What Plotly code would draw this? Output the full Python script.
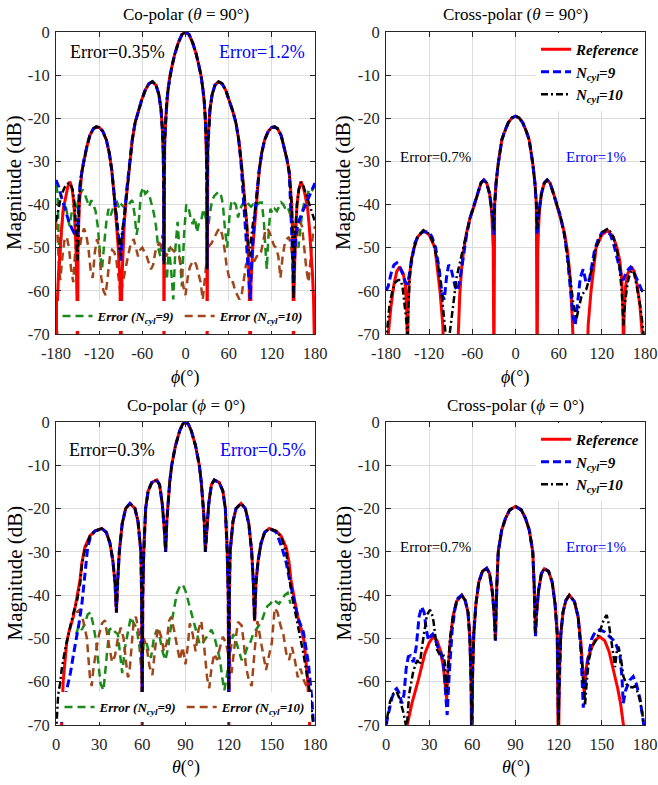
import plotly.graph_objects as go

FONT = "Liberation Serif"
W, H = 658, 785

# ---------------- data (angle in degrees, magnitude in dB) ----------------
PHI_TICKS = [-180, -120, -60, 0, 60, 120, 180]
PHI_TICKTEXT = ["-180", "-120", "-60", "0", "60", "120", "180"]
THETA_TICKS = [0, 30, 60, 90, 120, 150, 180]
THETA_TICKTEXT = ["0", "30", "60", "90", "120", "150", "180"]
DB_TICKS = [-70, -60, -50, -40, -30, -20, -10, 0]
DB_TICKTEXT = ["-70", "-60", "-50", "-40", "-30", "-20", "-10", "0"]

# Panel 1: Co-polar (theta = 90)
P1_REF = [(-180,-80),(-179.2,-70),(-178,-62),(-176.5,-56),(-174.4,-50),(-172,-45),(-169.8,-41),(-166.5,-38),(-163.5,-35.8),(-160.5,-34.7),(-157.5,-36.5),(-155,-40),(-152.2,-50),(-150.8,-62),(-150,-80),(-149.4,-50),(-147.6,-40),(-144.3,-32.5),(-141,-29.5),(-137,-26.5),(-133,-24),(-128,-22.4),(-124,-22),(-120,-22.1),(-115,-23),(-110,-25),(-106,-28),(-102.5,-32),(-98,-40),(-93.5,-50),(-91,-58),(-90,-80),(-88.5,-58),(-87,-50),(-85,-44),(-82,-38),(-78,-31),(-74,-25),(-70,-21),(-66,-18.5),(-61,-15.8),(-56,-13.5),(-51,-12),(-46,-11.5),(-41,-12.3),(-37,-14.5),(-34,-18),(-32,-23),(-31,-27),(-30.3,-33),(-30,-80),(-29.8,-33),(-29,-26),(-27.5,-20),(-26,-16),(-24,-13),(-21.5,-10),(-19,-8),(-15,-5.2),(-10,-2.5),(-5,-0.6),(0,0),(5,-0.6),(10,-2.5),(15,-5.2),(19,-8),(21.5,-10),(24,-13),(26,-16),(27.5,-20),(29,-26),(29.8,-33),(30,-80),(30.3,-33),(31,-27),(32,-23),(34,-18),(37,-14.5),(41,-12.3),(46,-11.5),(51,-12),(56,-13.5),(61,-15.8),(66,-18.5),(70,-21),(74,-25),(78,-31),(82,-38),(85,-44),(87,-50),(88.5,-58),(90,-80),(91,-58),(93.5,-50),(98,-40),(102.5,-32),(106,-28),(110,-25),(115,-23),(120,-22.1),(124,-22),(128,-22.4),(133,-24),(137,-26.5),(141,-29.5),(144.3,-32.5),(147.6,-40),(149.4,-50),(150,-80),(150.8,-62),(152.2,-50),(155,-40),(157.5,-36.5),(160.5,-34.7),(163.5,-35.8),(166.5,-38),(169.8,-41),(172,-45),(174.4,-50),(176.5,-56),(178,-62),(179.2,-70),(180,-80)]
P1_N9 = [(-180,-34.3),(-176,-36),(-172,-38.5),(-167,-41.5),(-162,-44),(-158,-45.5),(-155,-46.5),(-152,-46),(-150.5,-47),(-149.5,-44),(-148,-38),(-146,-34.5),(-144.3,-32.5),(-141,-29.5),(-137,-26.5),(-133,-24),(-128,-22.4),(-124,-22),(-120,-22.1),(-115,-23),(-110,-25),(-106,-28),(-102.5,-32),(-98,-40),(-94,-46),(-91,-50),(-90,-53),(-89,-50),(-87,-46),(-85,-42),(-82,-37),(-78,-31),(-74,-25),(-70,-21),(-66,-18.5),(-61,-15.8),(-56,-13.5),(-51,-12),(-46,-11.5),(-41,-12.3),(-37,-14.5),(-34,-18),(-32,-23),(-31,-27),(-30.3,-38),(-30,-53),(-29.7,-38),(-29,-26),(-27.5,-20),(-26,-16),(-24,-13),(-21.5,-10),(-19,-8),(-15,-5.2),(-10,-2.5),(-5,-0.6),(0,0),(5,-0.6),(10,-2.5),(15,-5.2),(19,-8),(21.5,-10),(24,-13),(26,-16),(27.5,-20),(29,-26),(29.7,-38),(30,-55),(30.3,-38),(31,-27),(32,-23),(34,-18),(37,-14.5),(41,-12.3),(46,-11.5),(51,-12),(56,-13.5),(61,-15.8),(66,-18.5),(70,-21),(74,-25),(77,-30),(80.4,-38),(83,-45),(85,-51),(87,-56),(89,-60),(90,-62),(91,-57),(93,-50),(97,-41),(102.5,-32),(106,-28),(110,-25),(115,-23),(120,-22.1),(124,-22),(128,-22.4),(133,-24),(137,-26.5),(141,-29.5),(144.3,-33),(146.5,-40),(148,-48),(149.3,-55),(150,-60),(151,-55),(153,-48),(156,-44.5),(159,-43),(163,-41.5),(167,-40),(171,-38.5),(175.4,-37),(180,-35)]
P1_N10 = [(-180,-44),(-177,-41),(-173,-38),(-168,-36),(-164,-35.2),(-160.5,-35),(-157,-36.5),(-154,-40),(-152,-45),(-150.5,-51),(-150,-53),(-149.5,-50),(-148.5,-42),(-147,-36),(-145,-33.3),(-141,-29.5),(-137,-26.5),(-133,-24),(-128,-22.4),(-124,-22),(-120,-22.1),(-115,-23),(-110,-25),(-106,-28),(-102.5,-32),(-98,-40),(-94,-46),(-91.5,-50),(-90.5,-52),(-89.5,-49),(-88,-46),(-85,-43),(-82,-38),(-78,-31),(-74,-25),(-70,-21),(-66,-18.5),(-61,-15.8),(-56,-13.5),(-51,-12),(-46,-11.5),(-41,-12.3),(-37,-14.5),(-34,-18),(-32,-23),(-31,-27),(-30.3,-38),(-30,-54),(-29.7,-38),(-29,-26),(-27.5,-20),(-26,-16),(-24,-13),(-21.5,-10),(-19,-8),(-15,-5.2),(-10,-2.5),(-5,-0.6),(0,0),(5,-0.6),(10,-2.5),(15,-5.2),(19,-8),(21.5,-10),(24,-13),(26,-16),(27.5,-20),(29,-26),(29.7,-38),(30,-55),(30.3,-38),(31,-27),(32,-23),(34,-18),(37,-14.5),(41,-12.3),(46,-11.5),(51,-12),(56,-13.5),(61,-15.8),(66,-18.5),(70,-21),(74,-25),(78,-31),(82,-38),(85,-44),(87.3,-50),(89.5,-52),(90.5,-49),(92,-46),(94,-44),(98,-40),(102.5,-32),(106,-28),(110,-25),(115,-23),(120,-22.1),(124,-22),(128,-22.4),(133,-24),(137,-26.5),(141,-29.5),(144.3,-32.5),(147.6,-40),(149.3,-50),(150,-62),(150.8,-55),(152.2,-47),(155,-40),(157.5,-36.5),(160.5,-34.8),(164,-35.8),(168,-37.8),(172,-40),(176,-42.3),(180,-44)]
P1_ERR9 = [(-180,-35.5),(-178,-37),(-176.5,-46),(-175,-54),(-173,-48),(-170,-41),(-167,-40),(-164,-42.5),(-161,-45),(-158,-41.5),(-155,-40),(-152,-41.5),(-149,-39),(-146,-37.5),(-143,-36.5),(-140,-37.5),(-137,-39),(-134,-40.5),(-131,-39),(-128,-40),(-125,-41.5),(-122,-45),(-119,-51),(-116,-55),(-113,-49),(-110,-44),(-107,-41),(-104,-42.5),(-101,-41),(-98,-40),(-95,-39.5),(-92,-41),(-89,-40),(-86,-40.5),(-83,-40),(-80,-40.5),(-77,-39.5),(-74,-39),(-71,-42),(-68,-47),(-65,-44),(-62,-37.5),(-59,-36),(-56,-37.5),(-53,-37),(-50,-38),(-47,-40),(-44,-42),(-41,-45),(-38,-50),(-35,-52),(-32,-47),(-29,-53),(-26,-57.5),(-23,-50),(-20,-55),(-17,-62),(-14,-50),(-11,-44),(-8,-52),(-5,-59),(-2,-47),(1,-40),(4,-40.5),(7,-43),(10,-44.5),(13,-43),(16,-46.5),(19,-44),(22,-43.5),(25,-41),(28,-43),(31,-46),(34,-42),(37,-39),(40,-38),(43,-37.5),(46,-37),(49,-37.5),(52,-40),(55,-46),(58,-50),(61,-43),(64,-39),(67,-39.5),(70,-40),(73,-43),(76,-41),(79,-40),(82,-39),(85,-39.5),(88,-40),(91,-40.5),(94,-40),(97,-40.5),(100,-40),(103,-39.5),(106,-39.5),(109,-44),(111,-50),(113,-55),(115,-48),(118,-41),(121,-42),(124,-41),(127,-41.5),(130,-40.5),(133,-39.5),(136,-40),(139,-41),(142,-40.5),(145,-42),(148,-44),(151,-45),(154,-48.5),(157,-50),(160,-45),(163,-41),(166,-39),(169,-37.5),(172,-36.5),(175,-37),(178,-36),(180,-35.5)]
P1_ERR10 = [(-180,-44),(-178,-47),(-176,-54),(-174,-57.5),(-171,-52),(-168,-48),(-165,-47.5),(-162,-50),(-159,-55),(-156,-58),(-153,-50),(-150,-47.5),(-147,-50),(-144,-47),(-141,-45.5),(-138,-47),(-135,-50),(-132,-55),(-129,-57),(-126,-51),(-123,-48),(-120,-50),(-117,-57),(-114,-60),(-111,-61),(-108,-57),(-105,-52),(-102,-50.5),(-99,-51),(-96,-53),(-93,-57),(-90,-61),(-87,-58),(-84,-55),(-80,-52),(-76,-49),(-72,-48),(-69,-50),(-66,-52),(-63,-50.5),(-60,-50),(-57,-51),(-54,-52),(-51,-53.5),(-48,-55),(-45,-54),(-42,-51),(-39,-49.5),(-36,-49),(-33,-50),(-30,-50.5),(-27,-52),(-24,-51),(-21,-50),(-18,-50.5),(-15,-51),(-12,-51.5),(-9,-52),(-6,-55),(-3,-59),(0,-61),(3,-57),(6,-54.5),(9,-53.5),(12,-53),(15,-54),(18,-56),(21,-58),(24,-62),(27,-56),(30,-52),(33,-49.5),(36,-49),(39,-48),(42,-47),(45,-46),(48,-45.5),(51,-47),(54,-50),(57,-54),(60,-56.5),(63,-58),(66,-58),(69,-60),(72,-61),(75,-62),(78,-61),(81,-57),(84,-54),(87,-53),(90,-53),(93,-53),(96,-53),(99,-52),(102,-52),(105,-51),(108,-48),(111,-46),(114,-45.5),(117,-46.5),(120,-48),(123,-49.5),(126,-50),(129,-52),(132,-57),(135,-52),(138,-49),(141,-48),(144,-47.5),(147,-50),(150,-53),(153,-50),(156,-46),(159,-44),(162,-45),(165,-50),(168,-55),(171,-58),(174,-52),(177,-47),(180,-45)]

# Panel 2: Cross-polar (theta = 90)
P2_REF = [(-180,-78),(-176.8,-70),(-173,-63.5),(-169,-58.5),(-165,-55.5),(-161,-54.4),(-156,-56),(-153,-59),(-151,-65),(-150,-80),(-149.5,-66),(-148,-58),(-145,-53),(-141,-50),(-136,-47.5),(-128,-46),(-120,-47),(-112,-50),(-105,-60),(-101,-68),(-100,-75),(-81,-75),(-79.5,-70),(-77.5,-61),(-75,-55),(-72,-50.5),(-68,-46.5),(-63,-43),(-58,-40.5),(-53,-37.5),(-48,-35),(-44,-34.3),(-40,-35),(-36,-37.5),(-33,-42),(-31,-50),(-30,-80),(-29,-40),(-27,-35),(-24,-30.5),(-19,-25),(-15,-23),(-10,-21),(-5,-19.9),(0,-19.5),(5,-19.9),(10,-21),(15,-23),(19,-25),(24,-30.5),(27,-35),(29,-40),(30,-80),(31,-50),(33,-42),(36,-37.5),(40,-35),(44,-34.3),(48,-35),(53,-37.5),(58,-40.5),(63,-43),(68,-46.5),(72,-50.5),(75,-55),(77.5,-61),(79.5,-70),(81,-75),(100,-75),(101,-68),(105,-60),(112,-50),(120,-47),(128,-46),(136,-47.5),(141,-50),(145,-53),(148,-58),(149.5,-66),(150,-80),(151,-65),(153,-59),(156,-56),(161,-54.4),(165,-55.5),(169,-58.5),(173,-63.5),(176.8,-70),(180,-78)]
P2_N9 = [(-180,-60),(-177,-59),(-173,-56),(-169,-54),(-165,-53.5),(-161,-54.5),(-157,-56),(-153,-58),(-150,-58.5),(-147,-55.5),(-144,-52),(-140,-49),(-135,-47),(-128,-46.3),(-121,-46.3),(-116,-47.5),(-111,-50),(-106,-55),(-102,-61),(-99,-62),(-96,-57),(-93,-54),(-90,-54.5),(-87,-57),(-84,-59),(-81,-60),(-78,-58),(-75,-55),(-72,-51),(-68,-47),(-63,-43),(-58,-40.5),(-53,-37.5),(-48,-35),(-44,-34.3),(-40,-35),(-36,-37.5),(-33,-41),(-31,-45),(-30,-47),(-29,-40),(-27,-35),(-24,-30.5),(-19,-25),(-15,-23),(-10,-21),(-5,-19.9),(0,-19.5),(5,-19.9),(10,-21),(15,-23),(19,-25),(24,-30.5),(27,-35),(29,-40),(30,-47),(31,-45),(33,-41),(36,-37.5),(40,-35),(44,-34.3),(48,-35),(53,-37.5),(58,-40.5),(63,-43),(68,-47),(72,-52),(76,-59),(80,-66),(83,-68),(86,-63),(90,-57),(94,-55),(98,-58),(102,-58),(106,-54),(110,-50.5),(115,-48),(120,-46.5),(126,-46),(132,-47),(137,-49.5),(141,-52),(145,-55),(148,-57),(150,-57.5),(153,-56),(157,-55),(160,-54.5),(164,-55.5),(168,-57),(172,-58.5),(176,-60),(180,-60)]
P2_N10 = [(-180,-72),(-178,-68),(-175,-63),(-171,-60),(-167,-58),(-163,-57.5),(-160,-57.5),(-157,-59),(-154,-63),(-151,-68),(-150,-72),(-149,-64),(-147,-57),(-145,-53),(-141,-50),(-136,-47.5),(-128,-46),(-120,-46.8),(-114,-49),(-108,-53.5),(-103,-60),(-99,-66),(-96,-72),(-93,-72),(-90,-68),(-86,-62),(-82,-57),(-78,-54),(-74,-51),(-70,-48),(-66,-45),(-63,-43),(-58,-40.5),(-53,-37.5),(-48,-35),(-44,-34.3),(-40,-35),(-36,-37.5),(-33,-41),(-31,-44),(-30,-46),(-29,-40),(-27,-35),(-24,-30.5),(-19,-25),(-15,-23),(-10,-21),(-5,-19.9),(0,-19.5),(5,-19.9),(10,-21),(15,-23),(19,-25),(24,-30.5),(27,-35),(29,-40),(30,-46),(31,-44),(33,-41),(36,-37.5),(40,-35),(44,-34.3),(48,-35),(53,-37.5),(58,-40.5),(63,-43),(68,-47),(72,-51.5),(76,-57),(80,-62.5),(84.6,-66.5),(88,-64),(92,-61),(98.5,-59.6),(103,-56.5),(107.8,-53.9),(112,-50),(120,-46.5),(129,-45.5),(136,-47.5),(141,-50.5),(145,-55),(148,-61),(150,-68),(152,-63),(156,-58),(159,-56),(162,-55.2),(165,-56),(168,-58.5),(172,-62),(175,-65.5),(178,-70),(180,-73)]

# Panel 3: Co-polar (phi = 0)
P3_REF = [(0,-80),(3.9,-70),(5,-60),(7.4,-51),(9,-48.5),(12,-45),(14,-41.5),(16.7,-36.5),(18,-32.5),(20,-29),(23.6,-26.3),(27,-25.2),(31.8,-24.6),(35,-25.5),(37.5,-28),(39.5,-32),(41,-37),(42,-44),(43,-36),(44,-30),(46,-23.5),(48.4,-20),(51.4,-18.8),(54.9,-20),(57,-23),(59,-30),(59.5,-40),(59.9,-75),(60.3,-40),(61,-30),(62.3,-20),(64,-16),(66.5,-14),(70,-13.4),(72,-14.5),(73.9,-19),(75.3,-25),(76.2,-30),(77,-23),(77.6,-20),(79,-14),(80.4,-10),(83,-5.5),(86,-2),(88,-0.5),(90,0),(92,-0.5),(94,-2),(97,-5.5),(99.6,-10),(101,-14),(102.4,-20),(103,-23),(103.8,-30),(104.7,-25),(106.1,-19),(108,-14.5),(110,-13.4),(113.5,-14),(116,-16),(117.7,-20),(119,-30),(119.7,-40),(120.1,-75),(120.5,-40),(121,-30),(123,-23),(125.1,-20),(128.6,-18.8),(131.6,-20),(134,-23.5),(136,-30),(137,-36),(138,-46),(139,-37),(140.5,-32),(142.5,-28),(145,-25.5),(148.2,-24.6),(153,-25.2),(156.4,-26.3),(160,-29),(162,-32.5),(163.3,-36.5),(166,-41.5),(168,-45),(171,-48.5),(172.6,-51),(175,-60),(176.1,-70),(177.5,-80),(180,-80)]
P3_N9 = [(2,-75),(3.5,-70),(5,-66),(8,-61),(10,-58),(12,-54),(14,-50.5),(16,-46.5),(18,-42),(20,-35),(22,-29),(24,-26.5),(27,-25.2),(31.8,-24.6),(35,-25.5),(37.5,-28),(39.5,-32),(41,-37),(42,-44),(43,-36),(44,-30),(46,-23.5),(48.4,-20),(51.4,-18.8),(54.9,-20),(57,-23),(59,-30),(59.5,-40),(59.9,-66),(60.3,-40),(61,-30),(62.3,-20),(64,-16),(66.5,-14),(70,-13.4),(72,-14.5),(73.9,-19),(75.3,-25),(76.2,-30),(77,-23),(77.6,-20),(79,-14),(80.4,-10),(83,-5.5),(86,-2),(88,-0.5),(90,0),(92,-0.5),(94,-2),(97,-5.5),(99.6,-10),(101,-14),(102.4,-20),(103,-23),(103.8,-30),(104.7,-25),(106.1,-19),(108,-14.5),(110,-13.4),(113.5,-14),(116,-16),(117.7,-20),(119,-30),(119.7,-40),(120.1,-66),(120.5,-40),(121,-30),(123,-23),(125.1,-20),(128.6,-18.8),(131.6,-20),(134,-23.5),(136,-30),(137,-36),(138,-46),(139,-37),(140.5,-32),(142.5,-28),(145,-25.5),(148.2,-24.6),(153,-25.4),(157,-29),(160,-32.5),(162.6,-37),(165,-40.5),(168.4,-45.5),(171.9,-48.5),(173.5,-52),(175.4,-55.7),(177.7,-63.6),(178.8,-70),(180,-75)]
P3_N10 = [(0,-72),(0.8,-66),(1.5,-63),(2.8,-60.5),(4,-57),(6.3,-52.6),(9.7,-47.3),(12,-44.2),(14.5,-41.5),(16.7,-37.5),(18,-33),(20,-29.5),(23.6,-26.3),(27,-25.2),(31.8,-24.6),(35,-25.5),(37.5,-28),(39.5,-32),(41,-37),(42,-44),(43,-36),(44,-30),(46,-23.5),(48.4,-20),(51.4,-18.8),(54.9,-20),(57,-23),(59,-30),(59.5,-40),(59.9,-66),(60.3,-40),(61,-30),(62.3,-20),(64,-16),(66.5,-14),(70,-13.4),(72,-14.5),(73.9,-19),(75.3,-25),(76.2,-30),(77,-23),(77.6,-20),(79,-14),(80.4,-10),(83,-5.5),(86,-2),(88,-0.5),(90,0),(92,-0.5),(94,-2),(97,-5.5),(99.6,-10),(101,-14),(102.4,-20),(103,-23),(103.8,-30),(104.7,-25),(106.1,-19),(108,-14.5),(110,-13.4),(113.5,-14),(116,-16),(117.7,-20),(119,-30),(119.7,-40),(120.1,-66),(120.5,-40),(121,-30),(123,-23),(125.1,-20),(128.6,-18.8),(131.6,-20),(134,-23.5),(136,-30),(137,-36),(138,-46),(139,-37),(140.5,-32),(142.5,-28),(145,-25.5),(148.2,-24.6),(153,-25.2),(156.4,-26.5),(160,-30),(162.6,-37),(164.5,-41),(167.3,-45.7),(171.9,-53.4),(176.5,-62.6),(178.5,-68),(179.5,-72)]
P3_ERR9 = [(14,-49),(16,-47),(18,-48),(20,-46.5),(22,-44.5),(24,-44),(26,-47),(28,-51),(29.5,-56),(31,-60.5),(33,-62),(35,-55),(37,-48),(39,-47.5),(41,-48.5),(43,-49),(44.5,-53),(46,-58),(48,-52),(50,-48),(52,-45),(54,-46.5),(56,-47.5),(58,-52),(59.5,-58),(61,-51),(62.5,-50.5),(64,-52.5),(66,-54.5),(68,-50),(70,-48),(72,-49.5),(74,-53),(76,-55),(78,-52),(80,-47),(82,-43),(84,-39.5),(86,-38),(88,-37.5),(90,-39),(92,-41.5),(94,-44),(96,-46),(98,-49),(100,-51.5),(102,-51),(104,-50),(106,-49),(108,-48),(110,-49.5),(112,-52),(114,-55),(115.5,-59),(117,-62),(119,-58),(121,-53),(123,-49),(125,-50.5),(127,-53),(129,-55),(131,-54),(133,-52),(135,-51),(137,-49),(139,-48),(141,-47),(143,-46),(145,-44),(147,-42.5),(149,-42),(151,-41),(153,-41.5),(155,-42),(157,-41),(159,-40),(161,-39.5),(163,-42)]
P3_ERR10 = [(14,-44),(16,-43.5),(18,-44.5),(20,-48),(21.5,-50),(22.5,-54.5),(23.6,-59),(24.8,-61),(26,-57),(28,-52.5),(30,-49),(32,-46.5),(34,-45.8),(36,-50),(37.5,-53),(39,-55.5),(41,-54),(43,-50),(45,-47.5),(47,-50),(48.5,-55),(50,-59),(51,-58),(52.5,-51),(54,-46),(55.5,-45),(57,-47.5),(59,-52),(61,-50),(63,-52),(65,-56.5),(67,-58.5),(69,-52),(71,-47.5),(73,-49.5),(75,-53),(77,-51),(78.5,-46),(80,-45),(82,-48),(84,-52),(86,-55),(88,-52),(90,-56),(91.5,-52),(93,-46.5),(95,-49),(97,-53),(99,-48),(101,-46),(103,-52),(105,-59),(106.5,-61.5),(108,-57),(110,-53.5),(112,-55),(114,-52),(116,-49.6),(118,-51),(120,-54),(122,-58),(124,-52),(126.5,-46.2),(129,-47),(130.5,-51),(132,-56.5),(134,-59.6),(136,-61),(138,-53),(140,-46),(142,-50),(144,-54),(146,-57.3),(148,-54),(150,-51),(152,-43),(154,-44),(156,-47),(158,-49),(160,-53.4),(162,-55),(164,-52),(166,-55),(168,-59),(170,-57),(172,-59.5),(174,-61)]

# Panel 4: Cross-polar (phi = 0)
P4_REF = [(0,-80),(13,-75),(14.8,-70),(18,-65),(22.5,-59.6),(27,-53.5),(30,-51),(32.9,-49.6),(35.5,-50.5),(38,-53),(40,-57),(41.5,-61),(42.2,-64),(43,-58),(44.5,-51),(46.5,-45),(49,-41.5),(52.6,-40),(55,-41.2),(57,-44),(58.3,-50),(59.1,-60),(59.6,-80),(60.2,-58),(61,-49),(62.5,-42),(64.5,-37),(67,-34.5),(70,-33.8),(72,-35),(74,-39.5),(75.3,-45),(76.1,-50),(77,-38),(78,-30),(80.4,-25),(83,-22.3),(86,-20.3),(90,-19.5),(94,-20.3),(97,-22.3),(99.6,-25),(102,-30),(103,-38),(103.9,-49),(104.7,-44),(106,-39),(108,-35),(110,-33.9),(113,-34.5),(115.5,-37),(117.5,-42),(119,-49),(119.8,-80),(120.5,-58),(121.5,-49),(123,-44),(125,-41.2),(127.4,-40),(131,-41.5),(133.5,-45),(135.5,-51),(137,-58),(137.8,-63),(138.7,-58),(140,-55),(142.5,-52.5),(145,-50.5),(148.5,-49.6),(152,-50.5),(155,-53),(158,-57),(161,-61.5),(163,-65),(165,-70),(167,-75),(180,-80)]
P4_N9 = [(0,-70),(2,-66.5),(4,-63.9),(6,-62),(7.4,-61.6),(9,-62.5),(11,-65),(12.5,-63),(14,-57),(15.5,-54.2),(17,-54),(19,-55.5),(21,-52),(23,-45),(24.8,-42.7),(26.5,-44),(28,-48),(29.5,-50.4),(31,-49.5),(32.5,-49),(34,-50),(36,-52),(38,-53),(40,-56),(41.5,-62),(42.5,-67.7),(44,-58),(46,-48),(48,-43),(50,-40.7),(52.6,-40),(55,-41.2),(57,-44),(58.3,-50),(59.1,-60),(59.7,-72),(60.2,-58),(61,-49),(62.5,-42),(64.5,-37),(67,-34.5),(70,-33.8),(72,-35),(74,-39.5),(75.3,-45),(76.1,-50.5),(77,-38),(78,-30),(80.4,-25),(83,-22.3),(86,-20.3),(90,-19.5),(94,-20.3),(97,-22.3),(99.6,-25),(102,-30),(103,-38),(103.9,-49.5),(104.7,-44),(106,-39),(108,-35),(110,-33.9),(113,-34.5),(115.5,-37),(117.5,-42),(119,-49),(119.8,-68),(120.5,-58),(121.5,-49),(123,-44),(125,-41.2),(127.4,-40),(131,-41.5),(133.5,-45),(135.5,-53),(137.1,-66),(138.5,-60),(140.6,-54.2),(143,-50),(145.5,-48.5),(148.7,-48),(152,-48.5),(155,-49.5),(158,-50.4),(160,-51.5),(162.6,-54),(164,-59),(164.9,-65),(166.5,-62),(169.5,-59.6),(171.8,-58.8),(174,-60.5),(176.5,-63.9),(178.8,-69.6),(180,-72)]
P4_N10 = [(0,-72),(1,-68),(2.8,-64.6),(5,-62.8),(7.4,-62.3),(9.5,-64),(12,-67),(14.4,-71),(16,-63),(19,-57.5),(21.7,-55),(23.5,-56),(25,-52),(27,-47),(28.5,-44.5),(30.6,-43.4),(32,-44.5),(33,-46),(34.3,-50),(35.5,-52.6),(37.9,-54.1),(40,-54),(41,-56),(42,-62.7),(43,-57),(44.5,-50),(46.5,-45),(49,-41.5),(52.6,-40),(55,-41.2),(57,-44),(58.3,-50),(59.1,-60),(59.6,-72),(60.2,-58),(61,-49),(62.5,-42),(64.5,-37),(67,-34.5),(70,-33.8),(72,-35),(74,-39.5),(75.3,-45),(75.8,-50.4),(77,-38),(78,-30),(80.4,-25),(83,-22.3),(86,-20.3),(90,-19.5),(94,-20.3),(97,-22.3),(99.6,-25),(102,-30),(103,-38),(103.6,-48.8),(104.7,-44),(106,-39),(108,-35),(110,-33.9),(113,-34.5),(115.5,-37),(117.5,-42),(119,-49),(119.8,-72),(120.5,-58),(121.5,-49),(123,-44),(125,-41.2),(127.4,-40),(131,-41.5),(133.5,-45),(135.5,-52),(137,-60),(138.3,-65.5),(139.5,-60),(141,-55),(143,-52),(146,-50.4),(149,-48),(151.5,-45.5),(153.4,-44.6),(155,-47),(156.8,-51),(158.2,-55),(159.2,-56.6),(160.4,-53),(161.5,-51.9),(163,-54),(165,-58.8),(167,-60.5),(169.5,-61.2),(171.5,-61.3),(173,-61),(175,-62.5),(176.5,-64.3),(178,-67),(179,-69.6),(180,-72)]

# ---------------- layout geometry (pixels) ----------------
PANELS = {
    1: (56, 315, 32, 334),
    2: (386, 645, 32, 334),
    3: (56, 315, 422, 725),
    4: (386, 645, 422, 725),
}

def fx(x):
    return x / W

def fy(y):
    return 1 - y / H

RED = "#ff0000"
BLUE = "#0000ff"
BLACK = "#000000"
GREEN = "#1a8a1a"
BROWN = "#a0461a"

fig = go.Figure()

def add(panel, pts, color, dash, width, name, legend, show):
    xa = "x" if panel == 1 else f"x{panel}"
    ya = "y" if panel == 1 else f"y{panel}"
    fig.add_trace(go.Scatter(
        x=[p[0] for p in pts], y=[p[1] for p in pts], mode="lines",
        line=dict(color=color, width=width, dash=dash),
        name=name, legend=legend, showlegend=show, xaxis=xa, yaxis=ya,
        hoverinfo="skip"))

REF_NAME = "<b><i>Reference</i></b>"
N9_NAME = "<b><i>N<sub>cyl</sub>=9</i></b>"
N10_NAME = "<b><i>N<sub>cyl</sub>=10</i></b>"
E9_NAME = "<b><i>Error (N<sub>cyl</sub>=9)</i></b>"
E10_NAME = "<b><i>Error (N<sub>cyl</sub>=10)</i></b>"

BLUE_DASH = "8px,4px"
BLACK_DASH = "7px,3px,2px,3px"
ERR_DASH = "8px,5px"

# panel 1
add(1, P1_ERR9, GREEN, ERR_DASH, 2.5, E9_NAME, "legend", True)
add(1, P1_ERR10, BROWN, ERR_DASH, 2.5, E10_NAME, "legend", True)
add(1, P1_REF, RED, "solid", 3, REF_NAME, "legend", False)
add(1, P1_N9, BLUE, BLUE_DASH, 3, N9_NAME, "legend", False)
add(1, P1_N10, BLACK, BLACK_DASH, 2.5, N10_NAME, "legend", False)
# panel 2
add(2, P2_REF, RED, "solid", 3, REF_NAME, "legend2", True)
add(2, P2_N9, BLUE, BLUE_DASH, 3, N9_NAME, "legend2", True)
add(2, P2_N10, BLACK, BLACK_DASH, 2.5, N10_NAME, "legend2", True)
# panel 3
add(3, P3_ERR9, GREEN, ERR_DASH, 2.5, E9_NAME, "legend3", True)
add(3, P3_ERR10, BROWN, ERR_DASH, 2.5, E10_NAME, "legend3", True)
add(3, P3_REF, RED, "solid", 3, REF_NAME, "legend3", False)
add(3, P3_N9, BLUE, BLUE_DASH, 3, N9_NAME, "legend3", False)
add(3, P3_N10, BLACK, BLACK_DASH, 2.5, N10_NAME, "legend3", False)
# panel 4
add(4, P4_REF, RED, "solid", 3, REF_NAME, "legend4", True)
add(4, P4_N9, BLUE, BLUE_DASH, 3, N9_NAME, "legend4", True)
add(4, P4_N10, BLACK, BLACK_DASH, 2.5, N10_NAME, "legend4", True)

layout = dict(
    width=W, height=H, margin=dict(l=0, r=0, t=0, b=0, autoexpand=False),
    paper_bgcolor="white", plot_bgcolor="white",
    font=dict(family=FONT, color="#000000"),
)

for i, (x0, x1, y0, y1) in PANELS.items():
    xn = "xaxis" if i == 1 else f"xaxis{i}"
    yn = "yaxis" if i == 1 else f"yaxis{i}"
    is_phi = i in (1, 2)
    common = dict(showline=True, linecolor="#262626", linewidth=1, mirror="ticks",
                  ticks="inside", ticklen=5, tickcolor="#262626",
                  showgrid=True, gridcolor="#dcdcdc", gridwidth=1, zeroline=False,
                  tickfont=dict(family=FONT, size=16.5, color="#262626"), fixedrange=True)
    layout[xn] = dict(common, domain=[fx(x0), fx(x1)], anchor="y" if i == 1 else f"y{i}",
                      range=[-180, 180] if is_phi else [0, 180],
                      tickmode="array",
                      tickvals=PHI_TICKS if is_phi else THETA_TICKS,
                      ticktext=PHI_TICKTEXT if is_phi else THETA_TICKTEXT,
                      ticklabelstandoff=4, ticklabeloverflow="allow")
    layout[yn] = dict(common, domain=[fy(y1), fy(y0)], anchor="x" if i == 1 else f"x{i}",
                      range=[-70, 0], tickmode="array", tickvals=DB_TICKS, ticktext=DB_TICKTEXT,
                      ticklabelstandoff=2)

leg_font = dict(family=FONT, size=15, color="#000000")
err_font = dict(family=FONT, size=13, color="#000000")
layout["legend"] = dict(orientation="h", x=fx(183), xanchor="center", y=fy(331), yanchor="bottom",
                        bgcolor="white", borderwidth=0, font=err_font, itemwidth=30)
layout["legend3"] = dict(orientation="h", x=fx(185), xanchor="center", y=fy(722), yanchor="bottom",
                         bgcolor="white", borderwidth=0, font=err_font, itemwidth=30)
layout["legend2"] = dict(x=fx(645), xanchor="right", y=fy(33), yanchor="top", bgcolor="white",
                         borderwidth=0, font=leg_font, itemwidth=30, tracegroupgap=0)
layout["legend4"] = dict(x=fx(645), xanchor="right", y=fy(423), yanchor="top", bgcolor="white",
                         borderwidth=0, font=leg_font, itemwidth=30, tracegroupgap=0)

annotations = []

def ann(x, y, text, size, color="#000000", angle=0):
    annotations.append(dict(x=fx(x), y=fy(y), xref="paper", yref="paper", text=text,
                            showarrow=False, textangle=angle, xanchor="center", yanchor="middle",
                            font=dict(family=FONT, size=size, color=color)))

# titles
ann(185.5, 15, "Co-polar (<i>θ</i> = 90°)", 17)
ann(515.5, 15, "Cross-polar (<i>θ</i> = 90°)", 17)
ann(185.5, 405, "Co-polar (<i>ϕ</i> = 0°)", 17)
ann(515.5, 405, "Cross-polar (<i>ϕ</i> = 0°)", 17)
# axis titles
ann(185.5, 377, "<i>ϕ</i>(°)", 18)
ann(515.5, 377, "<i>ϕ</i>(°)", 18)
ann(185.5, 767, "<i>θ</i>(°)", 18)
ann(515.5, 767, "<i>θ</i>(°)", 18)
for xpos in (14, 343):
    ann(xpos, 183, "Magnitude (dB)", 21, angle=-90)
    ann(xpos, 573.5, "Magnitude (dB)", 21, angle=-90)
# error labels
ann(117, 52, "Error=0.35%", 18)
ann(262, 52, "Error=1.2%", 18, color=BLUE)
ann(435, 157, "Error=0.7%", 15)
ann(596, 157, "Error=1%", 15, color=BLUE)
ann(112, 450, "Error=0.3%", 18)
ann(263, 450, "Error=0.5%", 18, color=BLUE)
ann(435, 547, "Error=0.7%", 15)
ann(596, 547, "Error=1%", 15, color=BLUE)

layout["annotations"] = annotations
fig.update_layout(**layout)
fig.write_html("out.html",
               config={"displayModeBar": False, "staticPlot": True},
               post_script="document.body.style.margin='0';document.body.style.overflow='hidden';")
